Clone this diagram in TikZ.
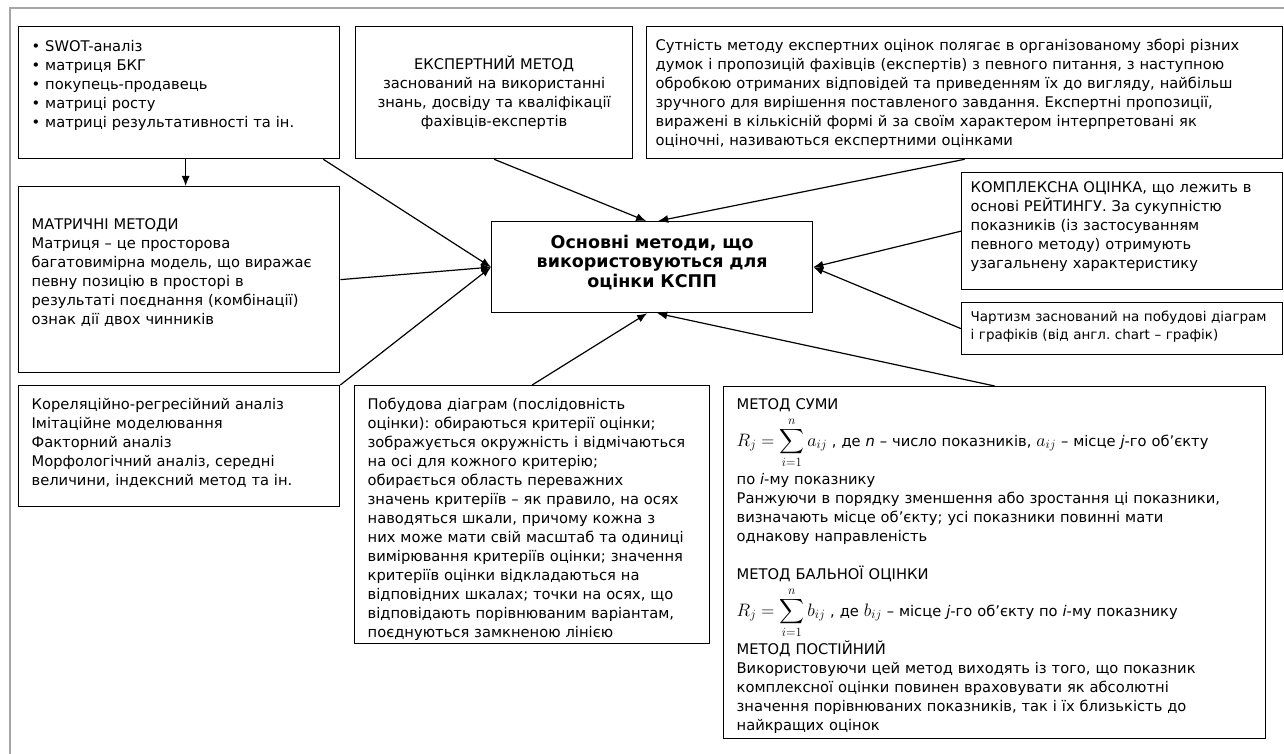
\documentclass[tikz,border=0pt]{standalone}
\usepackage{fix-cm}
\usepackage{exscale}
\usepackage[no-math]{fontspec}
\setmainfont{DejaVu Sans}
\usetikzlibrary{arrows.meta}
% big formula of the sum methods
\newcommand\rsum[1]{{\fontsize{18}{18}\selectfont$\displaystyle R_j=\sum_{i=1}^{n}#1_{ij}$}}
\newcommand\placev[1]{{\fontsize{18}{18}\selectfont$#1_{ij}$}}
\frenchspacing
\begin{document}
\begin{tikzpicture}[x=1pt,y=-1pt,
    box/.style={draw,line width=1.3pt,anchor=north west,inner xsep=13pt,inner ysep=0pt,
      align=left,font=\fontsize{14.7}{19}\selectfont\frenchspacing,text height=23.5pt},
    link/.style={line width=1.2pt,-{Latex[length=10pt,width=8pt]}}]
  \useasboundingbox (0,0) rectangle (1284,754);
  % grey frame of the sheet
  \draw[line width=2.5pt,black!35] (10,770) -- (10,8) -- (1300,8);

  \node[box,text width=295pt,text height=24.5pt,text depth=107.5pt] (swot) at (18,26)
    {• SWOT-аналіз\\• матриця БКГ\\• покупець-продавець\\• матриці росту\\
     • матриці результативності та ін.};
  \node[box,align=center,text width=251pt,text height=42.5pt,text depth=89.5pt] (expert) at (355,26)
    {ЕКСПЕРТНИЙ МЕТОД\\заснований на використанні\\знань, досвіду та кваліфікації\\
     фахівців-експертів};
  \node[box,inner xsep=9pt,text width=618pt,text depth=108.5pt] (sutn) at (646,26)
    {Сутність методу експертних оцінок полягає в організованому зборі різних\\
     думок і пропозицій фахівців (експертів) з певного питання, з наступною\\
     обробкою отриманих відповідей та приведенням їх до вигляду, найбільш\\
     зручного для вирішення поставленого завдання. Експертні пропозиції,\\
     виражені в кількісній формі й за своїм характером інтерпретовані як\\
     оціночні, називаються експертними оцінками};
  \node[box,text width=295pt,text height=42.5pt,text depth=143.5pt] (matr) at (18,186)
    {МАТРИЧНІ МЕТОДИ\\Матриця – це просторова\\багатовимірна модель, що виражає\\
     певну позицію в просторі в\\результаті поєднання (комбінації)\\ознак дії двох чинників};
  \node[box,align=center,font=\fontsize{17.5}{19.5}\selectfont\bfseries,
    text width=295pt,text height=26.5pt,text depth=64.5pt] (main) at (491,221)
    {Основні методи, що\\використовуються для\\оцінки КСПП};
  \node[box,inner xsep=9pt,text width=303pt,text height=19.5pt,text depth=97.5pt] (kompl) at (961,172)
    {КОМПЛЕКСНА ОЦІНКА, що лежить в\\основі РЕЙТИНГУ. За сукупністю\\
     показників (із застосуванням\\певного методу) отримують\\узагальнену характеристику};
  \node[box,inner xsep=9pt,font=\fontsize{13.5}{18}\selectfont,
    text width=303pt,text height=18.5pt,text depth=33.5pt] (chart) at (961,302)
    {Чартизм заснований на побудові діаграм\\і графіків (від англ. chart – графік)};
  \node[box,text width=295pt,text depth=97.5pt] (korel) at (18,385)
    {Кореляційно-регресійний аналіз\\Імітаційне моделювання\\Факторний аналіз\\
     Морфологічний аналіз, середні\\величини, індексний метод та ін.};
  \node[box,text width=329pt,text depth=234.5pt] (pobud) at (354,385)
    {Побудова діаграм (послідовність\\оцінки): обираються критерії оцінки;\\
     зображується окружність і відмічаються\\на осі для кожного критерію;\\
     обирається область переважних\\значень критеріїв – як правило, на осях\\
     наводяться шкали, причому кожна з\\них може мати свій масштаб та одиниці\\
     вимірювання критеріїв оцінки; значення\\критеріїв оцінки відкладаються на\\
     відповідних шкалах; точки на осях, що\\відповідають порівнюваним варіантам,\\
     поєднуються замкненою лінією};
  \node[box,text width=516pt,text height=22.5pt,text depth=329.5pt] (metod) at (723,386)
    {МЕТОД СУМИ\\[18pt]
     \makebox[\linewidth][s]{\smash{\rsum{a}} , де \textit{n} – число показників,
       \smash{\placev{a}} – місце \textit{j}-го об’єкту}\\[19pt]
     по \textit{i}-му показнику\\
     \makebox[\linewidth][s]{Ранжуючи в порядку зменшення або зростання ці показники,}\\
     \makebox[\linewidth][s]{визначають місце об’єкту; усі показники повинні мати}\\
     однакову направленість\\[19pt]
     МЕТОД БАЛЬНОЇ ОЦІНКИ\\[18pt]
     \smash{\rsum{b}} , де \smash{\placev{b}} – місце \textit{j}-го об’єкту по \textit{i}-му показнику\\[19pt]
     МЕТОД ПОСТІЙНИЙ\\
     Використовуючи цей метод виходять із того, що показник\\
     комплексної оцінки повинен враховувати як абсолютні\\
     значення порівнюваних показників, так і їх близькість до\\
     найкращих оцінок};

  % connectors into the centre box
  \draw[link] ([xshift=6.5pt]swot.south) -- ([xshift=6.5pt]matr.north);
  \draw[link] ([xshift=-17pt]swot.south east) -- (main.west);
  \draw[link] (matr.east) -- (main.west);
  \draw[link] (korel.north east) -- (main.west);
  \draw[link] (expert.south) -- ([xshift=-6pt]main.north);
  \draw[link] (sutn.south) -- ([xshift=6pt]main.north);
  \draw[link] (kompl.west) -- (main.east);
  \draw[link] (chart.west) -- (main.east);
  \draw[link] (pobud.north) -- ([xshift=-5pt]main.south);
  \draw[link] (metod.north) -- ([xshift=5pt]main.south);
\end{tikzpicture}
\end{document}
